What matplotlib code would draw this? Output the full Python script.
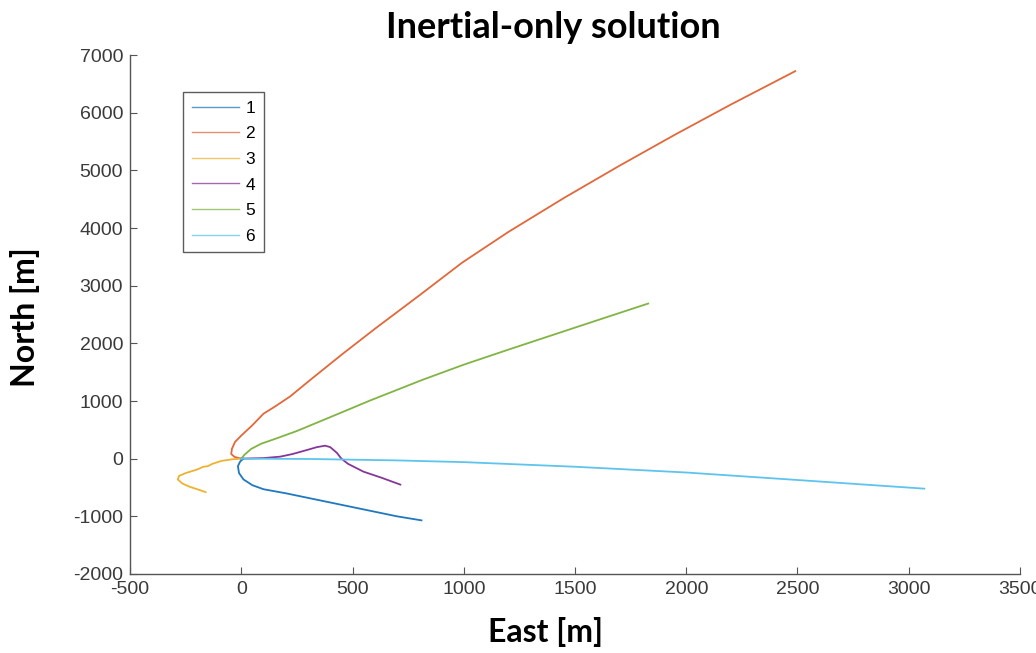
import matplotlib
matplotlib.use("Agg")
import matplotlib.pyplot as plt

# ---- data ----
labels = ["1", "2", "3", "4", "5", "6"]

east_1 = [10, -5, -15, -10, 10, 50, 100, 200, 300, 400, 500, 600, 700, 810]
north_1 = [0, -50, -130, -250, -360, -460, -530, -600, -680, -760, -840, -920, -1000, -1070]

east_2 = [0, -30, -45, -42, -28, 0, 50, 100, 150, 220, 310, 450, 600, 800, 993, 1200, 1450, 1700, 1950, 2200, 2490]
north_2 = [0, 30, 80, 170, 290, 400, 580, 780, 900, 1080, 1365, 1800, 2250, 2830, 3400, 3930, 4520, 5080, 5620, 6140, 6720]

east_3 = [0, -40, -90, -130, -150, -170, -200, -250, -280, -285, -265, -230, -190, -160]
north_3 = [0, -10, -40, -90, -130, -140, -190, -250, -300, -360, -430, -490, -540, -580]

east_4 = [0, 50, 100, 175, 230, 295, 340, 377, 400, 430, 450, 480, 549, 630, 715]
north_4 = [0, 5, 10, 35, 80, 150, 200, 225, 200, 100, 0, -90, -225, -330, -450]

east_5 = [0, 15, 45, 90, 150, 250, 400, 580, 813, 1000, 1200, 1400, 1600, 1829]
north_5 = [0, 70, 170, 260, 340, 480, 720, 1010, 1365, 1630, 1890, 2145, 2400, 2690]

east_6 = [0, 300, 700, 1000, 1500, 2000, 2500, 3070]
north_6 = [0, -5, -30, -60, -140, -240, -370, -520]

xticks = [-500, 0, 500, 1000, 1500, 2000, 2500, 3000, 3500]
yticks = [-2000, -1000, 0, 1000, 2000, 3000, 4000, 5000, 6000, 7000]

colors = ["#1F78C0", "#E2683A", "#EEB232", "#86369A", "#80B443", "#5EC4EE"]

series = [(east_1, north_1), (east_2, north_2), (east_3, north_3),
          (east_4, north_4), (east_5, north_5), (east_6, north_6)]

# ---- plot ----
fig = plt.figure(figsize=(10.36, 6.53), dpi=100)
ax = fig.add_axes([130/1036, 79/653, 890/1036, 519/653])

for (e, n), c, lab in zip(series, colors, labels):
    ax.plot(e, n, color=c, lw=1.3, label=lab)

ax.set_xlim(-500, 3500)
ax.set_ylim(-2000, 7000)
ax.set_xticks(xticks)
ax.set_yticks(yticks)
tick_font = {"family": ["Liberation Sans", "DejaVu Sans"], "size": 14}
ax.set_xticklabels([str(t) for t in xticks], fontdict=tick_font, color="#3a3a3a")
ax.set_yticklabels([str(t) for t in yticks], fontdict=tick_font, color="#3a3a3a")
ax.tick_params(direction="in", length=5, color="#555555", top=False, right=False, pad=5)
for s in ["top", "right"]:
    ax.spines[s].set_visible(False)
for s in ["left", "bottom"]:
    ax.spines[s].set_color("#555555")
    ax.spines[s].set_linewidth(1.0)

leg = ax.legend(loc="upper left", bbox_to_anchor=(53/890, 1 - 37/519),
                prop={"family": ["Liberation Sans", "DejaVu Sans"], "size": 12.5},
                frameon=True, fancybox=False, handlelength=2.75, handletextpad=0.35,
                labelspacing=0.6, borderpad=0.5, borderaxespad=0)
leg.get_frame().set_edgecolor("#333333")
leg.get_frame().set_linewidth(1.0)
for h in leg.get_lines():
    h.set_linewidth(1.0)
    h.set_alpha(0.75)

title_font = ["Lato", "Open Sans", "DejaVu Sans"]
fig.text(553/1036, 1 - 27/653, "Inertial-only solution", ha="center", va="center",
         fontsize=26, fontweight="bold", family=title_font)
fig.text(545/1036, 1 - 632/653, "East [m]", ha="center", va="center",
         fontsize=23, fontweight="bold", family=title_font)
fig.text(25/1036, 1 - 317/653, "North [m]", ha="center", va="center", rotation=90,
         fontsize=23, fontweight="bold", family=title_font)

fig.savefig("out.png", dpi=100)
